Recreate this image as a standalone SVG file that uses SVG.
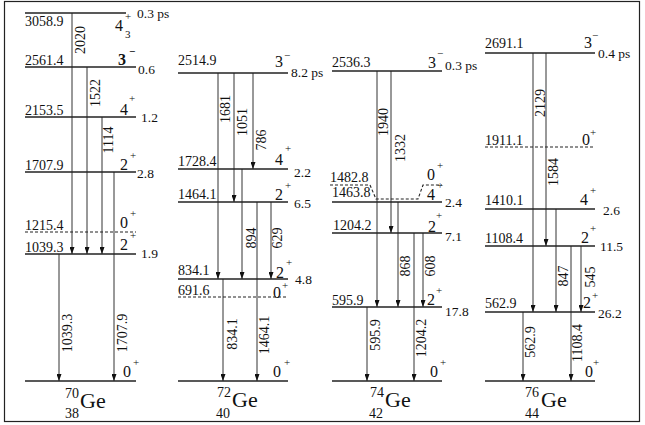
<svg xmlns="http://www.w3.org/2000/svg" width="645" height="425" viewBox="0 0 645 425" font-family="Times New Roman, Liberation Serif, Tinos, Nimbus Roman, DejaVu Serif, serif">
<defs>
<marker id="ah" viewBox="0 0 7 5" refX="7" refY="2.5" markerWidth="7" markerHeight="5" markerUnits="userSpaceOnUse" orient="auto">
<path d="M0,0 L7,2.5 L0,5 z" fill="#111"/>
</marker>
</defs>
<style>
text{fill:#111}
.lv{stroke:#222;stroke-width:1.4;fill:none}
.ds{stroke:#222;stroke-width:1.1;stroke-dasharray:3,2;fill:none}
.en{font-size:14px}
.sp{font-size:16px}
.sup{font-size:11px}
.hl{font-size:13.5px}
.tr{stroke:#333;stroke-width:1;fill:none;marker-end:url(#ah)}
.tl{font-size:14px;text-anchor:middle}
.iso{font-size:22px}
.an{font-size:14px}
</style>
<rect x="4.5" y="1.5" width="635" height="420" fill="#fff" stroke="#222" stroke-width="1.2"/>

<g id="connectors">
<line class="tr" x1="72" y1="13" x2="72" y2="254"/>
<line class="tr" x1="87" y1="67" x2="87" y2="254"/>
<line class="tr" x1="102" y1="117" x2="102" y2="254"/>
<line class="tr" x1="59" y1="254" x2="59" y2="381"/>
<line class="tr" x1="114" y1="172" x2="114" y2="381"/>
<text class="tl" transform="translate(85,40) rotate(-90)">2020</text>
<text class="tl" transform="translate(100,93) rotate(-90)">1522</text>
<text class="tl" transform="translate(113,140) rotate(-90)">1114</text>
<text class="tl" transform="translate(72,333) rotate(-90)">1039.3</text>
<text class="tl" transform="translate(127,333) rotate(-90)">1707.9</text>
<line class="tr" x1="218" y1="73" x2="218" y2="279"/>
<line class="tr" x1="234" y1="73" x2="234" y2="202"/>
<line class="tr" x1="253" y1="73" x2="253" y2="169"/>
<line class="tr" x1="242" y1="169" x2="242" y2="279"/>
<line class="tr" x1="271" y1="202" x2="271" y2="279"/>
<line class="tr" x1="223" y1="279" x2="223" y2="381"/>
<line class="tr" x1="257" y1="202" x2="257" y2="381"/>
<text class="tl" transform="translate(230,109) rotate(-90)">1681</text>
<text class="tl" transform="translate(247,122) rotate(-90)">1051</text>
<text class="tl" transform="translate(266,140) rotate(-90)">786</text>
<text class="tl" transform="translate(256,238) rotate(-90)">894</text>
<text class="tl" transform="translate(282,238) rotate(-90)">629</text>
<text class="tl" transform="translate(237,334) rotate(-90)">834.1</text>
<text class="tl" transform="translate(269,335) rotate(-90)">1464.1</text>
<line class="tr" x1="377" y1="71" x2="377" y2="307"/>
<line class="tr" x1="391" y1="71" x2="391" y2="233"/>
<line class="tr" x1="398" y1="202" x2="398" y2="307"/>
<line class="tr" x1="423" y1="233" x2="423" y2="307"/>
<line class="tr" x1="367" y1="307" x2="367" y2="381"/>
<line class="tr" x1="414" y1="233" x2="414" y2="381"/>
<text class="tl" transform="translate(388,122) rotate(-90)">1940</text>
<text class="tl" transform="translate(405,148) rotate(-90)">1332</text>
<text class="tl" transform="translate(410,266) rotate(-90)">868</text>
<text class="tl" transform="translate(435,266) rotate(-90)">608</text>
<text class="tl" transform="translate(380,335) rotate(-90)">595.9</text>
<text class="tl" transform="translate(426,338) rotate(-90)">1204.2</text>
<line class="tr" x1="533" y1="53" x2="533" y2="312"/>
<line class="tr" x1="546" y1="53" x2="546" y2="246"/>
<line class="tr" x1="556" y1="209" x2="556" y2="312"/>
<line class="tr" x1="581" y1="246" x2="581" y2="312"/>
<line class="tr" x1="523" y1="312" x2="523" y2="381"/>
<line class="tr" x1="571" y1="246" x2="571" y2="381"/>
<text class="tl" transform="translate(545,103) rotate(-90)">2129</text>
<text class="tl" transform="translate(558,172) rotate(-90)">1584</text>
<text class="tl" transform="translate(568,276) rotate(-90)">847</text>
<text class="tl" transform="translate(595,277) rotate(-90)">545</text>
<text class="tl" transform="translate(535,342) rotate(-90)">562.9</text>
<text class="tl" transform="translate(582,343) rotate(-90)">1108.4</text>
</g>

<g id="ge70-3058">
<line class="lv" x1="25" y1="13" x2="126" y2="13"/>
<text class="en" x="25" y="26">3058.9</text>
<text class="sp" x="115" y="31">4</text><text class="sup" x="125" y="38">3</text><text class="sup" x="125" y="19.5">+</text>
<text class="hl" x="137" y="18">0.3 ps</text>
</g>
<g id="ge70-2561">
<line class="lv" x1="25" y1="67" x2="136" y2="67"/>
<text class="en" x="25" y="65">2561.4</text>
<text class="sp" x="118" y="65" font-weight="bold">3</text><text class="sup" x="129" y="55" font-weight="bold">−</text>
<text class="hl" x="138" y="74">0.6</text>
</g>
<g id="ge70-2153">
<line class="lv" x1="25" y1="117" x2="136" y2="117"/>
<text class="en" x="25" y="115">2153.5</text>
<text class="sp" x="120" y="115">4</text><text class="sup" x="129" y="102">+</text>
<text class="hl" x="141" y="122">1.2</text>
</g>
<g id="ge70-1707">
<line class="lv" x1="25" y1="172" x2="136" y2="172"/>
<text class="en" x="25" y="170">1707.9</text>
<text class="sp" x="120" y="170">2</text><text class="sup" x="130" y="159">+</text>
<text class="hl" x="137" y="178">2.8</text>
</g>
<g id="ge70-1215">
<line class="ds" x1="25" y1="232" x2="136" y2="232"/>
<text class="en" x="25" y="230">1215.4</text>
<text class="sp" x="120" y="228">0</text><text class="sup" x="130" y="217">+</text>
</g>
<g id="ge70-1039">
<line class="lv" x1="25" y1="254" x2="136" y2="254"/>
<text class="en" x="25" y="252">1039.3</text>
<text class="sp" x="120" y="250">2</text><text class="sup" x="130" y="239">+</text>
<text class="hl" x="141" y="258">1.9</text>
</g>
<g id="ge70-0">
<line class="lv" x1="25" y1="381" x2="136" y2="381"/>
<text class="sp" x="123" y="377">0</text><text class="sup" x="133" y="366">+</text>
<text class="an" x="65" y="398">70</text><text class="iso" x="80" y="408">Ge</text><text class="an" x="65" y="418">38</text>
</g>

<g id="ge72-2514">
<line class="lv" x1="178" y1="73" x2="288" y2="73"/>
<text class="en" x="178" y="65">2514.9</text>
<text class="sp" x="275" y="67">3</text><text class="sup" x="284" y="59">−</text>
<text class="hl" x="291" y="77">8.2 ps</text>
</g>
<g id="ge72-1728">
<line class="lv" x1="178" y1="169" x2="288" y2="169"/>
<text class="en" x="178" y="166">1728.4</text>
<text class="sp" x="275" y="165">4</text><text class="sup" x="285" y="152">+</text>
<text class="hl" x="294" y="177">2.2</text>
</g>
<g id="ge72-1464">
<line class="lv" x1="178" y1="202" x2="288" y2="202"/>
<text class="en" x="178" y="199">1464.1</text>
<text class="sp" x="275" y="200">2</text><text class="sup" x="285" y="189">+</text>
<text class="hl" x="294" y="208">6.5</text>
</g>
<g id="ge72-834">
<line class="lv" x1="178" y1="279" x2="288" y2="279"/>
<text class="en" x="178" y="275">834.1</text>
<text class="sp" x="276" y="278">2</text><text class="sup" x="286" y="266">+</text>
<text class="hl" x="295" y="284">4.8</text>
</g>
<g id="ge72-691">
<line class="ds" x1="178" y1="297" x2="288" y2="297"/>
<text class="en" x="178" y="295">691.6</text>
<text class="sp" x="273" y="298">0</text><text class="sup" x="282" y="289">+</text>
</g>
<g id="ge72-0">
<line class="lv" x1="178" y1="381" x2="288" y2="381"/>
<text class="sp" x="273" y="377">0</text><text class="sup" x="284" y="366">+</text>
<text class="an" x="217" y="397">72</text><text class="iso" x="232" y="407">Ge</text><text class="an" x="216" y="418">40</text>
</g>

<g id="ge74-2536">
<line class="lv" x1="332" y1="71" x2="442" y2="71"/>
<text class="en" x="332" y="67">2536.3</text>
<text class="sp" x="428" y="68">3</text><text class="sup" x="437" y="57">−</text>
<text class="hl" x="445" y="70">0.3 ps</text>
</g>
<g id="ge74-1482">
<polyline class="ds" points="330,185 370,185 376,199 418,199 423,185 442,185"/>
<text class="en" x="330" y="182">1482.8</text>
<text class="sp" x="427" y="180">0</text><text class="sup" x="437" y="169">+</text>
</g>
<g id="ge74-1463">
<line class="lv" x1="332" y1="202" x2="442" y2="202"/>
<text class="en" x="332" y="197">1463.8</text>
<text class="sp" x="427" y="200">4</text><text class="sup" x="437" y="189">+</text>
<text class="hl" x="445" y="207">2.4</text>
</g>
<g id="ge74-1204">
<line class="lv" x1="332" y1="233" x2="442" y2="233"/>
<text class="en" x="333" y="230">1204.2</text>
<text class="sp" x="428" y="232">2</text><text class="sup" x="436" y="219">+</text>
<text class="hl" x="445" y="241">7.1</text>
</g>
<g id="ge74-595">
<line class="lv" x1="332" y1="307" x2="442" y2="307"/>
<text class="en" x="332" y="305">595.9</text>
<text class="sp" x="427" y="305">2</text><text class="sup" x="436" y="294">+</text>
<text class="hl" x="445" y="316">17.8</text>
</g>
<g id="ge74-0">
<line class="lv" x1="332" y1="381" x2="442" y2="381"/>
<text class="sp" x="430" y="377">0</text><text class="sup" x="440" y="366">+</text>
<text class="an" x="370" y="397">74</text><text class="iso" x="385" y="407">Ge</text><text class="an" x="369" y="418">42</text>
</g>

<g id="ge76-2691">
<line class="lv" x1="485" y1="53" x2="595" y2="53"/>
<text class="en" x="485" y="48">2691.1</text>
<text class="sp" x="584" y="48">3</text><text class="sup" x="592" y="39">−</text>
<text class="hl" x="598" y="58">0.4 ps</text>
</g>
<g id="ge76-1911">
<line class="ds" x1="485" y1="147" x2="595" y2="147"/>
<text class="en" x="485" y="145">1911.1</text>
<text class="sp" x="582" y="145">0</text><text class="sup" x="590" y="136">+</text>
</g>
<g id="ge76-1410">
<line class="lv" x1="485" y1="209" x2="595" y2="209"/>
<text class="en" x="485" y="205">1410.1</text>
<text class="sp" x="580" y="205">4</text><text class="sup" x="590" y="194">+</text>
<text class="hl" x="603" y="215">2.6</text>
</g>
<g id="ge76-1108">
<line class="lv" x1="485" y1="246" x2="595" y2="246"/>
<text class="en" x="485" y="243">1108.4</text>
<text class="sp" x="581" y="243">2</text><text class="sup" x="590" y="232">+</text>
<text class="hl" x="600" y="251">11.5</text>
</g>
<g id="ge76-562">
<line class="lv" x1="485" y1="312" x2="595" y2="312"/>
<text class="en" x="485" y="308">562.9</text>
<text class="sp" x="583" y="308">2</text><text class="sup" x="592" y="299">+</text>
<text class="hl" x="598" y="318">26.2</text>
</g>
<g id="ge76-0">
<line class="lv" x1="485" y1="381" x2="595" y2="381"/>
<text class="sp" x="585" y="377">0</text><text class="sup" x="593" y="366">+</text>
<text class="an" x="525" y="397">76</text><text class="iso" x="541" y="407">Ge</text><text class="an" x="525" y="418">44</text>
</g>
</svg>
